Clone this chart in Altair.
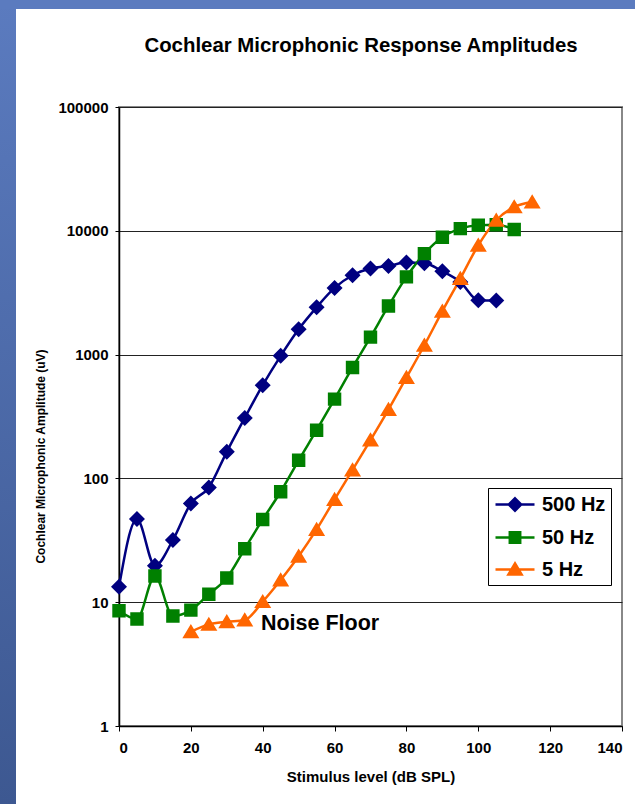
import altair as alt
import pandas as pd

# Stimulus levels (dB SPL) for each tone
levels_500 = list(range(0, 110, 5))
levels_50 = list(range(0, 115, 5))
levels_5 = list(range(20, 120, 5))

# Cochlear microphonic amplitudes (uV)
amp_500 = [13.3, 46.9, 19.7, 31.8, 62.8, 84.5, 164, 308, 566, 977, 1603,
           2410, 3456, 4376, 4958, 5203, 5540, 5470, 4716, 3865, 2750, 2730]
amp_50 = [8.53, 7.31, 16.3, 7.73, 8.63, 11.6, 15.7, 27, 46.6, 78, 140,
          245, 437, 787, 1384, 2470, 4245, 6545, 8870, 10420, 11090, 11200, 10230]
amp_5 = [5.77, 6.62, 6.95, 7.18, 10.1, 15.1, 23.5, 38.7, 67.6, 117, 204,
         360, 653, 1190, 2242, 4115, 7640, 12170, 15600, 17100]

series_names = ["500 Hz", "50 Hz", "5 Hz"]
series_colors = ["#000080", "#008000", "#FF6600"]

# marker glyphs: a short horizontal stroke (only visible when stroked, i.e. in
# the legend) plus the filled marker itself
marker_paths = [
    "M-1.95,0H1.95M0,-0.62L0.62,0L0,0.62L-0.62,0Z",
    "M-1.95,0H1.95M-0.52,-0.52H0.52V0.52H-0.52Z",
    "M-1.95,0H1.95M0,-0.6L0.66,0.5H-0.66Z",
]

chart_title = ["Cochlear Microphonic Response Amplitudes"]
note_text = ["Noise Floor"]
note_level = [39.5]
note_amp = [6.65]

rows = []
for name, clr, xs, ys in zip(series_names, series_colors,
                             [levels_500, levels_50, levels_5],
                             [amp_500, amp_50, amp_5]):
    rows += [{"level": a, "amp": b, "series": name, "clr": clr} for a, b in zip(xs, ys)]
df = pd.DataFrame(rows)

FONT = "Liberation Sans"
W, H = 503, 619
PAD_L, PAD_T = 119, 107

x_enc = alt.X(
    "level:Q",
    scale=alt.Scale(domain=[0, 140], nice=False, zero=False),
    axis=alt.Axis(
        values=list(range(0, 141, 20)), title="Stimulus level (dB SPL)",
        grid=False, domainColor="#000000", domainWidth=1.5,
        tickColor="#000000", tickSize=5, labelPadding=9,
        labelFont=FONT, labelFontSize=15, labelFontWeight="bold", labelColor="#000000",
        titleFont=FONT, titleFontSize=15, titleFontWeight="bold", titleColor="#000000",
        titleY=50, titleBaseline="middle",
    ),
)
y_enc = alt.Y(
    "amp:Q",
    scale=alt.Scale(type="log", domain=[1, 100000], nice=False),
    axis=alt.Axis(
        values=[1, 10, 100, 1000, 10000, 100000], format="d",
        title="Cochlear Microphonic Amplitude (uV)",
        grid=True, gridColor="#222222", gridWidth=1,
        domainColor="#000000", domainWidth=1.5,
        tickColor="#000000", tickSize=4, labelPadding=7,
        labelFont=FONT, labelFontSize=15, labelFontWeight="bold", labelColor="#000000",
        titleFont=FONT, titleFontSize=12, titleFontWeight="bold", titleColor="#000000",
        titleX=-79, titleY=349, titleAlign="center", titleBaseline="middle",
    ),
)

color_scale = alt.Scale(domain=series_names, range=series_colors)
shape_scale = alt.Scale(domain=series_names, range=marker_paths)
leg = alt.Legend(title=None)

base = alt.Chart(df)

# smoothed connecting lines, coloured straight from the data column
lines = base.mark_line(interpolate="monotone", strokeWidth=2.5).encode(
    x=x_enc, y=y_enc,
    color=alt.Color("clr:N", scale=None),
    detail="series:N",
)

points = base.mark_point(filled=True, opacity=1).encode(
    x=x_enc, y=y_enc,
    fill=alt.Fill("series:N", scale=color_scale, legend=leg),
    stroke=alt.Stroke("series:N", scale=color_scale, legend=leg),
    shape=alt.Shape("series:N", scale=shape_scale, legend=leg),
    size=alt.value(666),
    strokeWidth=alt.value(0),
)

note = alt.Chart(pd.DataFrame({"level": note_level, "amp": note_amp, "label": note_text})).mark_text(
    align="left", baseline="middle", font=FONT, fontSize=21.5, fontWeight="bold", color="#000000"
).encode(x="level:Q", y="amp:Q", text="label:N")

# slide frame: blue strips along the left and top edges
frame_df = pd.DataFrame({"k": [0]})
left_strip = alt.Chart(frame_df).mark_rect(
    fill=alt.LinearGradient(
        gradient="linear", x1=0, x2=0, y1=0, y2=1,
        stops=[alt.GradientStop(color="#5b7bbf", offset=0),
               alt.GradientStop(color="#3d5891", offset=1)],
    )
).encode(x=alt.value(-PAD_L), x2=alt.value(-PAD_L + 16),
         y=alt.value(-PAD_T), y2=alt.value(804 - PAD_T))
top_strip = alt.Chart(frame_df).mark_rect(fill="#5b7bbf").encode(
    x=alt.value(-PAD_L), x2=alt.value(635 - PAD_L),
    y=alt.value(-PAD_T), y2=alt.value(-PAD_T + 9))

# chart heading, placed above the plot area
heading = alt.Chart(pd.DataFrame({"t": chart_title})).mark_text(
    font=FONT, fontSize=20.4, fontWeight="bold", color="#000000",
    align="center", baseline="middle",
).encode(text="t:N", x=alt.value(361 - PAD_L), y=alt.value(46 - PAD_T))

chart = alt.layer(left_strip, top_strip, heading, lines, points, note).properties(
    width=W, height=H,
    autosize=alt.AutoSizeParams(type="none"),
    padding={"left": PAD_L, "top": PAD_T, "right": 635 - PAD_L - W, "bottom": 804 - PAD_T - H},
    background="#ffffff",
).configure_view(
    stroke="#888888", strokeWidth=2
).configure_legend(
    orient="none", legendX=369, legendY=381,
    fillColor="#ffffff", strokeColor="#000000", padding=5,
    symbolSize=400, symbolStrokeWidth=2.5, symbolOffset=10.5, rowPadding=10,
    labelFont=FONT, labelFontSize=20, labelFontWeight="bold", labelColor="#000000",
    labelOffset=15.5,
)

chart.save("out.html", embed_options={"renderer": "svg", "actions": False})
